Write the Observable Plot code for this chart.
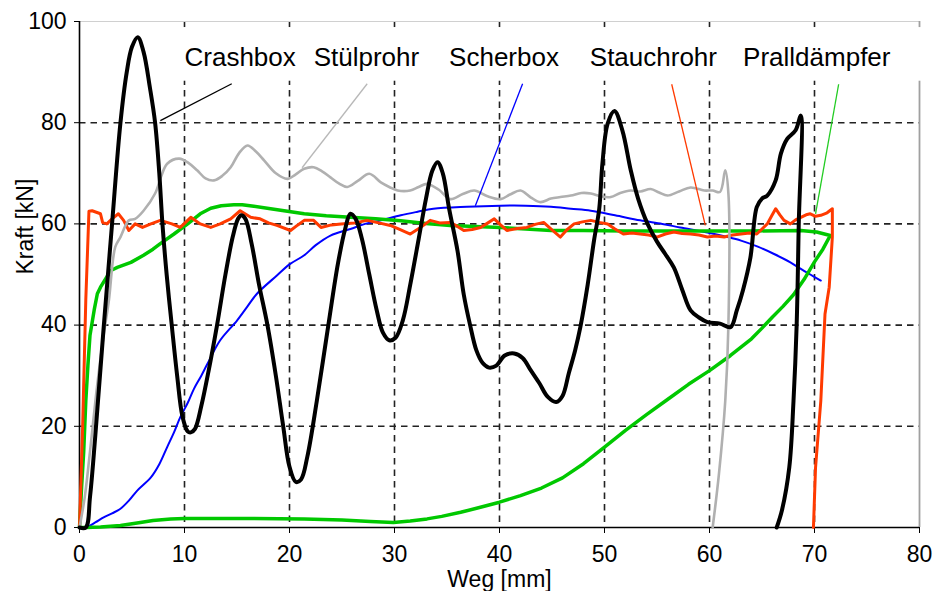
<!DOCTYPE html>
<html>
<head>
<meta charset="utf-8">
<script src="https://cdn.jsdelivr.net/npm/d3@7"></script>
<script src="https://cdn.jsdelivr.net/npm/@observablehq/plot@0.6"></script>
<style>
  html, body { margin: 0; padding: 0; background: #fff; }
  #chart svg { display: block; }
</style>
</head>
<body>
<div id="chart"></div>
<script>
// ---- data (Weg [mm], Kraft [kN]) ----
const crashbox = [[0,0],[0.6,0],[1.0,6],[1.5,18],[2.3,39.5],[3.1,60],[3.9,80],[4.5,90],[5.0,95],[5.55,96.9],[6.1,94],[6.7,87],[7.2,80],[7.6,70],[7.9,60],[8.3,50],[8.8,39.7],[9.3,30],[9.8,22],[10.3,19],[10.6,18.8],[11.0,19.5],[11.6,24],[12.3,31],[13.1,40],[13.9,50],[14.6,57.5],[15.1,61],[15.4,61.7],[15.8,61],[16.4,56],[17.1,48],[17.9,40],[18.7,30],[19.4,20],[20.0,12],[20.6,9.0],[21.1,9.5],[21.7,14],[22.6,25],[23.7,40],[24.6,52],[25.3,59],[25.8,62],[26.3,61],[26.9,57],[27.6,50],[28.3,43],[28.9,38.5],[29.5,37],[30.1,37.5],[30.8,41],[31.5,48],[32.3,57],[33.0,65],[33.6,70.5],[34.1,72.2],[34.6,70],[35.2,63],[36.0,54.7],[36.6,46],[37.2,40],[37.8,35],[38.4,32.5],[39.0,31.6],[39.7,32],[40.5,34],[41.4,34.4],[42.2,33.5],[43.0,31],[43.8,28.5],[44.6,25.8],[45.4,24.8],[46.0,26],[46.6,30.5],[47.2,35],[47.7,39.6],[48.4,48],[49.0,56.7],[49.5,63],[49.8,71.9],[50.3,79.8],[50.95,82.3],[51.7,78.5],[52.5,70.6],[53.2,65],[54.1,60],[55.0,56.5],[55.8,54],[56.6,51.4],[57.4,47],[58.2,42.9],[59.0,41.5],[59.8,40.6],[61.0,40.3],[62.0,39.6],[62.6,42.9],[63.2,47],[63.9,53.4],[64.5,63.3],[65.0,65],[65.5,65.6],[66.3,68.6],[66.8,73.9],[67.4,76.8],[68.2,78.5],[68.7,81.4],[68.5,60],[68.3,40],[68.0,25],[67.6,11.9],[66.9,3.4],[66.4,0]];

const stuelprohr = [[0,0],[0.5,6],[1.0,15],[1.7,28.4],[2.3,38],[2.8,44.9],[3.4,55.4],[3.9,57.4],[4.7,60.7],[5.3,61],[6.1,62.6],[7.2,66],[7.8,69.5],[8.35,71.9],[9.5,72.9],[10.4,72],[11.2,70.6],[12.0,69],[12.8,68.6],[13.6,69.5],[14.4,71.2],[15.2,74],[16.0,75.5],[16.8,74.3],[17.6,72.5],[18.7,70],[19.8,68.9],[20.6,69.8],[21.4,70.9],[22.3,71.2],[23.1,70.4],[23.9,69.2],[24.7,68],[25.5,67.3],[26.5,68.5],[27.6,69.9],[28.7,68.2],[29.5,67.3],[30.3,66.6],[31.5,66.6],[32.3,67.3],[33.1,67.9],[34.2,66.8],[35.3,64.9],[36.5,65.9],[37.6,66.6],[38.8,65.5],[40.1,64.9],[41.0,65.8],[42.0,66.6],[43.0,65.2],[43.9,64.3],[44.9,65],[45.8,65.3],[46.8,65.6],[47.8,66.1],[48.7,66],[49.7,65.4],[50.6,65.3],[51.5,66.1],[52.5,66.6],[53.4,66.4],[54.4,66.9],[55.2,66.2],[56.0,65.6],[57.1,66.4],[58.2,67.2],[59.5,66.6],[60.3,66.6],[61.0,66.3],[61.5,70.6],[61.8,66],[61.8,40],[61.5,25],[60.9,10.6],[60.3,0]];

const scherbox = [[0,0],[0.6,0],[1.5,1],[2.3,2.0],[3.1,2.8],[3.9,3.7],[4.7,5.3],[5.5,7.3],[6.8,9.9],[7.6,12.5],[8.35,15.9],[9.0,18.8],[9.6,21.8],[10.3,24.6],[10.9,27.4],[11.6,30],[12.2,32.4],[13.4,37],[15.0,40.9],[16.0,43.7],[16.9,46.2],[18.8,49.8],[20.0,52],[21.4,53.8],[22.5,55.8],[23.9,57.7],[25.8,59],[27.2,60],[28.7,60.7],[30.6,61.7],[32.2,62.4],[33.7,63],[36.9,63.4],[40.1,63.6],[42.5,63.6],[44.9,63.4],[46.8,63],[48.7,62.6],[51.0,61.7],[53.4,60.7],[55.5,60],[57.2,59.3],[59.8,58.3],[61.5,57.5],[63.0,56.7],[64.6,55.5],[66.1,54.1],[67.7,52.4],[68.7,51.1],[69.6,50],[70.6,48.8]];

const stauchrohr = [[0,0],[0.3,20],[0.6,45],[0.9,62.5],[1.2,62.6],[2.0,62],[2.2,60.3],[2.6,60],[3.1,61],[3.7,62],[4.2,60.7],[4.7,58.7],[5.3,60],[6.0,59.3],[6.8,60],[7.7,60.7],[8.8,60],[9.6,59.3],[10.6,61.3],[11.5,60],[12.5,59.3],[13.4,60],[14.4,61],[15.3,62.6],[16.3,61.3],[17.2,61],[18.0,60.2],[18.8,59.7],[20.1,58.7],[20.8,59.8],[21.4,60.7],[22.3,60.7],[23.0,59.3],[24.0,59.8],[24.9,60],[26.2,60.2],[27.4,60.7],[28.5,60.2],[29.6,59.7],[30.6,58.8],[31.5,58],[32.4,59.2],[33.4,60.7],[34.3,60.2],[35.3,60.3],[36.0,59.5],[36.6,58.7],[37.4,58.9],[38.2,59.3],[38.9,60.2],[39.5,61],[40.1,59.8],[40.7,58.7],[41.7,59.1],[42.6,59.3],[43.4,59.9],[44.2,60.3],[45.0,58.8],[45.8,57.4],[46.4,58.8],[47.1,60],[47.9,60.4],[48.7,60.7],[49.5,60.3],[50.3,60],[51.0,59],[51.8,58],[52.6,58.2],[53.4,58],[54.2,57.8],[55.0,57.4],[55.8,58],[56.6,58.4],[57.4,58.1],[58.2,58],[59.0,57.8],[59.8,57.4],[60.6,57.6],[61.4,57.4],[62.2,57.8],[63.0,58],[63.8,58.2],[64.5,58],[65.0,59],[65.5,60],[65.9,61.5],[66.3,63],[66.7,61.8],[67.1,60.7],[67.7,60],[68.2,60.8],[68.7,61.3],[69.2,61.8],[69.6,62],[70.1,61.5],[70.6,61.7],[71.2,62.2],[71.7,63],[71.7,57.4],[71.4,47.5],[71.0,42.2],[70.6,25],[70.1,11.9],[69.9,0]];

const pralldaempfer = [[0,0],[0.2,8],[0.4,15],[0.6,25],[0.8,32],[1.0,38],[1.4,43],[1.7,46.2],[2.0,47.5],[2.6,49.5],[3.0,50.8],[3.6,51.4],[4.9,52.4],[6.1,53.8],[7.0,55],[7.7,56.1],[9.0,58],[10.3,60],[11.5,62],[12.5,63.1],[13.5,63.6],[14.7,63.8],[15.5,63.8],[16.6,63.5],[18.2,63],[19.8,62.5],[21.4,62],[23.5,61.6],[25.8,61.3],[28.2,61],[30.6,60.6],[33.0,60.1],[35.3,59.7],[37.7,59.5],[40.1,59.3],[42.5,59],[44.9,58.7],[48,58.7],[52,58.6],[56,58.6],[60,58.6],[64,58.6],[68.7,58.7],[70.2,58.4],[71.5,57.7],[70.8,55],[70.0,52.5],[69.0,49],[68.0,46],[67.0,43.7],[66.0,41.6],[65.0,39.4],[64.0,37.3],[62.0,34],[60.0,31],[58.0,28.3],[56.0,25.3],[54.0,22.3],[52.0,19.2],[50.0,15.9],[48.0,12.6],[46.0,9.8],[44.0,7.8],[42.0,6.3],[40.0,5.0],[38.0,3.9],[36.3,3.0],[34.5,2.2],[33.1,1.7],[31.5,1.3],[29.9,1.0],[27.7,1.2],[25,1.5],[21.4,1.7],[15,1.8],[10,1.8],[8.7,1.7],[7.0,1.4],[5.8,1.0],[3.9,0.4],[2.0,0.1],[0.6,0],[0,0]];

// labels and pointer lines (annotation)
const labelNames = ["Crashbox", "Stülprohr", "Scherbox", "Stauchrohr", "Pralldämpfer"];
const labelX     = [10.0, 22.3, 35.2, 48.6, 63.2];
const labelY     = 92.8;
const pointerFrom = [[14.5, 87.7], [27.4, 87.7], [42.2, 87.7], [56.4, 87.6], [72.3, 87.6]];
const pointerTo   = [[7.7, 80.4], [21.2, 71.1], [37.7, 63.6], [59.6, 59.7], [70.1, 62.0]];

const xTicks = [0, 10, 20, 30, 40, 50, 60, 70, 80];
const yTicks = [0, 20, 40, 60, 80, 100];
const xGrid = [10, 20, 30, 40, 50, 60, 70];
const yGrid = [20, 40, 60, 80];
const labelBand = [88.2, 98.8];

const colors = {
  crashbox: "#000000",
  stuelprohr: "#b0b0b0",
  scherbox: "#0000ff",
  stauchrohr: "#ff3a00",
  pralldaempfer: "#00c800"
};
const pointerColors = ["#000000", "#b8b8b8", "#0000ff", "#ff3a00", "#22cc22"];

const pointers = labelNames.map((n, i) => ({
  name: n, x1: pointerFrom[i][0], y1: pointerFrom[i][1], x2: pointerTo[i][0], y2: pointerTo[i][1], c: pointerColors[i]
}));
const labels = labelNames.map((n, i) => ({name: n, x: labelX[i], y: labelY}));

const lineOpts = (stroke, w, curve = "linear") => ({x: d => d[0], y: d => d[1], stroke, strokeWidth: w, curve, strokeLinejoin: "round", strokeLinecap: "round"});

const chart = Plot.plot({
  width: 939,
  height: 591,
  marginLeft: 79,
  marginRight: 20,
  marginTop: 21,
  marginBottom: 64,
  style: {fontFamily: "'Liberation Sans', Arial, sans-serif", fontSize: "23px", color: "#000", background: "#fff"},
  x: {domain: [0, 80], ticks: xTicks, tickSize: 6, tickPadding: 12, label: null},
  y: {domain: [0, 100], ticks: yTicks, tickSize: 5, tickPadding: 8, label: null},
  marks: [
    // grid
    Plot.ruleX(xGrid, {stroke: "#222", strokeWidth: 1.6, strokeDasharray: "6.5,5"}),
    Plot.ruleY(yGrid, {stroke: "#222", strokeWidth: 1.6, strokeDasharray: "6.5,5"}),
    // frame
    Plot.ruleY([100], {stroke: "#d0d0d0", strokeWidth: 1.2}),
    Plot.ruleX([80], {stroke: "#a0a0a0", strokeWidth: 1.8}),
    // white band behind labels
    Plot.rect([labelBand], {x1: () => 0.12, x2: () => 81, y1: d => d[0], y2: d => d[1], fill: "white"}),
    // axes lines
    Plot.ruleX([0], {stroke: "#000", strokeWidth: 1.6}),
    Plot.ruleY([0], {stroke: "#000", strokeWidth: 1.6}),
    // curves
    Plot.line(scherbox, lineOpts(colors.scherbox, 2, "catmull-rom")),
    Plot.line(pralldaempfer, lineOpts(colors.pralldaempfer, 3.5)),
    Plot.line(stauchrohr, lineOpts(colors.stauchrohr, 3)),
    Plot.line(stuelprohr, lineOpts(colors.stuelprohr, 2.6, "catmull-rom")),
    Plot.line(crashbox, lineOpts(colors.crashbox, 4, "catmull-rom")),
    // pointer lines
    Plot.link(pointers, {x1: "x1", y1: "y1", x2: "x2", y2: "y2", stroke: "c", strokeWidth: 1.3}),
    // labels
    Plot.text(labels, {x: "x", y: "y", text: "name", textAnchor: "start", fontSize: 26, fill: "#000"}),
    // axis titles
    Plot.text(["Weg [mm]"], {frameAnchor: "bottom", dy: 59, fontSize: 23, fill: "#000"}),
    Plot.text(["Kraft [kN]"], {frameAnchor: "left", dx: -54, rotate: -90, fontSize: 23, fill: "#000"})
  ]
});
document.getElementById("chart").appendChild(chart);
</script>
</body>
</html>
